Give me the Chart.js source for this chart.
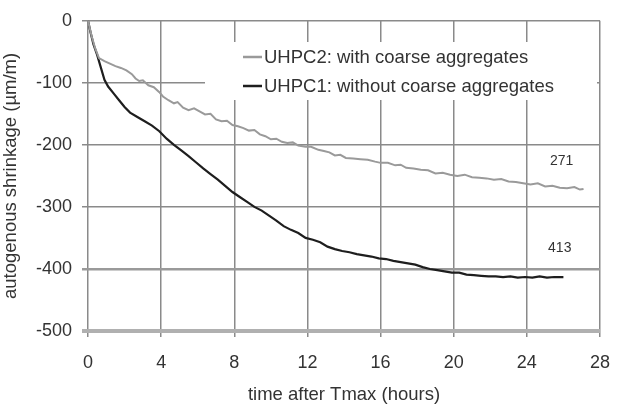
<!DOCTYPE html>
<html>
<head>
<meta charset="utf-8">
<script src="https://cdn.jsdelivr.net/npm/chart.js@4.4.1/dist/chart.umd.min.js"></script>
<style>
html,body{margin:0;padding:0;background:#fff;}
#wrap{width:625px;height:406px;}
</style>
</head>
<body>
<div id="wrap"><canvas id="c" width="625" height="406"></canvas></div>
<script>
// ---- data ----
const seriesLabels = ["UHPC2: with coarse aggregates", "UHPC1: without coarse aggregates"];
const uhpc2Time = [0,0.2,0.4,0.6,0.9,1.2,1.5,1.8,2.1,2.4,2.6,2.8,3.0,3.3,3.6,3.9,4.1,4.4,4.7,4.9,5.2,5.5,5.8,6.1,6.4,6.7,7.0,7.3,7.6,7.9,8.2,8.5,8.8,9.1,9.4,9.7,10.0,10.3,10.6,10.9,11.2,11.5,11.9,12.2,12.6,12.9,13.2,13.5,13.8,14.1,14.5,14.9,15.3,15.7,16.0,16.4,16.8,17.1,17.4,17.8,18.2,18.6,19.0,19.4,19.8,20.2,20.6,21.0,21.4,21.8,22.2,22.6,23.0,23.4,23.8,24.2,24.6,25.0,25.4,25.8,26.2,26.6,26.9,27.1];
const uhpc2Shrink = [0,-25,-45,-60,-65,-69,-73,-76,-80,-86,-93,-97,-96,-104,-107,-115,-122,-128,-133,-131,-140,-144,-141,-146,-151,-150,-159,-162,-161,-168,-170,-173,-177,-176,-183,-186,-191,-190,-195,-197,-196,-201,-203,-203,-208,-210,-212,-217,-216,-221,-222,-223,-224,-227,-229,-229,-233,-232,-237,-238,-240,-241,-246,-245,-248,-250,-248,-252,-253,-254,-256,-255,-259,-260,-262,-264,-262,-267,-266,-269,-270,-268,-272,-271];
const uhpc1Time = [0,0.15,0.3,0.5,0.7,0.9,1.1,1.4,1.7,2.0,2.3,2.7,3.1,3.5,3.9,4.3,4.7,5.1,5.5,5.9,6.3,6.7,7.1,7.5,7.9,8.3,8.7,9.1,9.5,9.9,10.3,10.7,11.1,11.5,11.9,12.3,12.7,13.1,13.5,13.9,14.3,14.7,15.1,15.5,15.9,16.3,16.7,17.1,17.5,17.9,18.3,18.7,19.1,19.5,19.9,20.3,20.7,21.1,21.5,21.9,22.3,22.7,23.1,23.5,23.9,24.3,24.7,25.1,25.5,26.0];
const uhpc1Shrink = [0,-20,-38,-55,-75,-95,-106,-117,-128,-139,-148,-155,-162,-169,-178,-190,-200,-209,-218,-228,-238,-247,-256,-266,-276,-284,-292,-300,-306,-314,-322,-331,-337,-342,-350,-353,-357,-364,-368,-371,-373,-376,-378,-380,-383,-384,-387,-389,-391,-393,-397,-400,-402,-404,-406,-406,-409,-410,-411,-412,-412,-413,-412,-414,-413,-414,-412,-414,-413,-413];
const xTicks = [0,4,8,12,16,20,24,28];
const yTicks = [0,-100,-200,-300,-400,-500];
const endLabels = [{text:"271", t:25.9, v:-226}, {text:"413", t:25.8, v:-366}];
const xTitle = "time after Tmax (hours)";
const yTitle = "autogenous shrinkage (\u00b5m/m)";

const FONT = "'Liberation Sans', Arial, sans-serif";
const colors = ["#9a9a9a", "#1e1e1e"];

function pts(xs, ys){ return xs.map((x,i)=>({x:x, y:ys[i]})); }

const legendBox = {
  id:'legendBox',
  beforeDatasetsDraw(chart){
    const ctx = chart.ctx;
    ctx.save();
    ctx.fillStyle = '#fff';
    ctx.fillRect(205, 42, 392, 58);
    ctx.restore();
  },
  afterDatasetsDraw(chart){
    const ctx = chart.ctx;
    const xs = chart.scales.x, ys = chart.scales.y;
    ctx.save();
    ctx.font = "18.5px " + FONT;
    ctx.textBaseline = 'middle';
    ctx.textAlign = 'left';
    const rows = [57, 86];
    chart.data.datasets.forEach((ds, i) => {
      ctx.strokeStyle = ds.borderColor;
      ctx.lineWidth = 2.5;
      ctx.beginPath();
      ctx.moveTo(243, rows[i]);
      ctx.lineTo(262, rows[i]);
      ctx.stroke();
      ctx.fillStyle = '#333';
      ctx.fillText(ds.label, 264, rows[i] + 1);
    });
    ctx.font = "14px " + FONT;
    ctx.textAlign = 'center';
    ctx.fillStyle = '#333';
    endLabels.forEach(l => {
      ctx.fillText(l.text, xs.getPixelForValue(l.t), ys.getPixelForValue(l.v));
    });
    ctx.restore();
  }
};

new Chart(document.getElementById('c'), {
  type: 'scatter',
  data: {
    datasets: [
      {label: seriesLabels[0], data: pts(uhpc2Time, uhpc2Shrink), showLine:true, borderColor: colors[0], borderWidth:2, pointRadius:0, tension:0},
      {label: seriesLabels[1], data: pts(uhpc1Time, uhpc1Shrink), showLine:true, borderColor: colors[1], borderWidth:2.2, pointRadius:0, tension:0}
    ]
  },
  options: {
    responsive:false,
    animation:false,
    layout:{padding:{left:0, right:22, top:15, bottom:0}},
    plugins:{legend:{display:false}, tooltip:{enabled:false}},
    scales:{
      x:{
        type:'linear', min:0, max:28,
        afterBuildTicks(s){ s.ticks = xTicks.map(v=>({value:v})); },
        afterFit(s){ s.height = 75; },
        grid:{color:'#8a8a8a', lineWidth:1.5, tickLength:6},
        border:{display:false},
        ticks:{font:{family:FONT, size:18}, color:'#333', padding:15, maxRotation:0},
        title:{display:true, text:xTitle, font:{family:FONT, size:18.5}, color:'#333', padding:{top:0,bottom:0}}
      },
      y:{
        type:'linear', min:-500, max:0,
        afterBuildTicks(s){ s.ticks = yTicks.map(v=>({value:v})); },
        afterFit(s){ s.width = 88; },
        grid:{
          color:(c)=> c.tick && c.tick.value===-500 ? '#b0b0b0' : (c.tick && c.tick.value===-400 ? '#9a9a9a' : '#8a8a8a'),
          lineWidth:(c)=> c.tick && c.tick.value===-500 ? 4 : (c.tick && c.tick.value===-400 ? 2.5 : 1.5),
          tickLength:6
        },
        border:{display:false},
        ticks:{font:{family:FONT, size:18}, color:'#333', padding:10},
        title:{display:true, text:yTitle, font:{family:FONT, size:18.5}, color:'#333', padding:{top:0,bottom:8}}
      }
    }
  },
  plugins:[legendBox]
});
</script>
</body>
</html>
